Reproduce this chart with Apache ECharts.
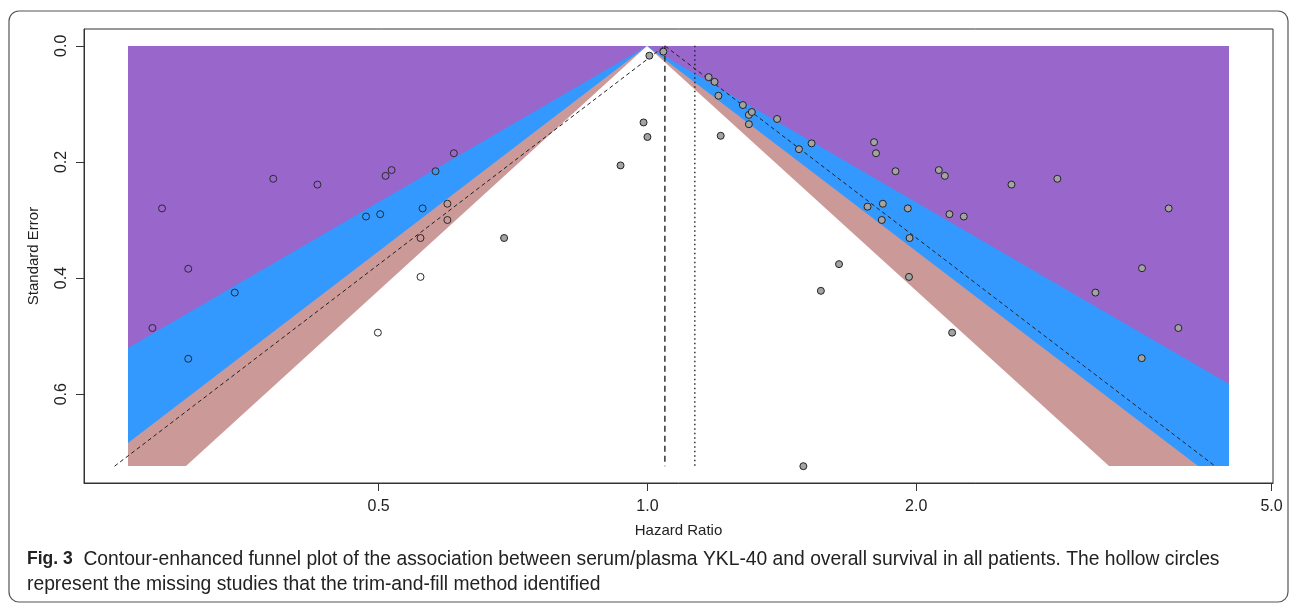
<!DOCTYPE html>
<html>
<head>
<meta charset="utf-8">
<title>Contour-enhanced funnel plot</title>
<script src="https://cdn.jsdelivr.net/npm/echarts@6/dist/echarts.min.js"></script>
<style>
  html, body { margin: 0; padding: 0; background: #fff; }
  #chart { width: 1295px; height: 607px; }
</style>
</head>
<body>
<div id="chart"></div>
<script>
// observed studies (grey filled points)
var observedHR = [1.005, 1.042, 0.990, 1.000, 0.933, 0.691, 1.208, 1.171, 1.189, 1.201,
  1.279, 1.299, 1.299, 1.309, 1.397, 1.478, 1.527, 1.794, 1.803, 1.896,
  2.120, 2.153, 1.764, 1.835, 1.957, 1.830, 1.966, 2.179, 2.261, 1.639,
  1.564, 1.963, 2.194, 2.557, 2.878, 3.835, 3.580, 3.175, 3.932, 3.577, 1.495];
var observedSE = [0.017, 0.010, 0.132, 0.157, 0.206, 0.331, 0.155, 0.054, 0.062, 0.086,
  0.102, 0.119, 0.135, 0.114, 0.126, 0.178, 0.168, 0.166, 0.185, 0.216,
  0.214, 0.224, 0.277, 0.272, 0.280, 0.300, 0.331, 0.290, 0.294, 0.376,
  0.422, 0.398, 0.494, 0.239, 0.229, 0.280, 0.383, 0.425, 0.486, 0.538, 0.724];

// studies added by trim-and-fill (hollow points)
var imputedHR = [0.279, 0.286, 0.306, 0.306, 0.345, 0.381, 0.427, 0.484, 0.502, 0.509,
  0.517, 0.579, 0.607, 0.560, 0.597, 0.597, 0.557, 0.557, 0.499];
var imputedSE = [0.486, 0.280, 0.384, 0.539, 0.425, 0.229, 0.239, 0.294, 0.290, 0.224,
  0.214, 0.216, 0.185, 0.280, 0.272, 0.300, 0.331, 0.398, 0.494];

var xTicks = [0.5, 1.0, 2.0, 5.0];
var yTicks = [0.0, 0.2, 0.4, 0.6];

// contour levels: whole area (p < 0.01 outside), 99%, 95%, 90%
var contourZ = [Infinity, 2.576, 1.96, 1.645];
var estHR = 1.046;   // trim-and-fill pooled estimate
var origHR = 1.130;  // dotted reference line
var hrRange = [0.262, 4.48];
var seMax = 0.724;

var regionColors = ['#9966cc', '#3399ff', '#cc9999', '#ffffff'];

var lnMin = Math.log(hrRange[0]);
var lnMax = Math.log(hrRange[1]);
var padX = (lnMax - lnMin) * 0.04;
var padY = seMax * 0.04;
var est = Math.log(estHR);

function regionPolygon(z) {
  var pts = [[0, 0]];
  if (-lnMin / z < seMax) {
    pts.push([lnMin, -lnMin / z]);
    pts.push([lnMin, seMax]);
  } else {
    pts.push([-z * seMax, seMax]);
  }
  if (lnMax / z < seMax) {
    pts.push([lnMax, seMax]);
    pts.push([lnMax, lnMax / z]);
  } else {
    pts.push([z * seMax, seMax]);
  }
  return pts;
}

var observedData = observedHR.map(function (hr, i) { return [Math.log(hr), observedSE[i]]; });
var imputedData = imputedHR.map(function (hr, i) { return [Math.log(hr), imputedSE[i]]; });

var chart = echarts.init(document.getElementById('chart'));

var axisFont = 'Liberation Sans, Arial, sans-serif';

var option = {
  backgroundColor: '#fff',
  animation: false,
  grid: {
    left: 84, right: 22, top: 29, bottom: 124,
    show: true,
    borderColor: '#333',
    borderWidth: 1
  },
  xAxis: {
    type: 'value',
    min: lnMin - padX,
    max: lnMax + padX,
    name: 'Hazard Ratio',
    nameLocation: 'middle',
    nameGap: 40,
    nameTextStyle: { color: '#222', fontSize: 15, fontFamily: axisFont },
    axisLine: { show: true, onZero: false, lineStyle: { color: '#333' } },
    splitLine: { show: false },
    axisTick: {
      show: true, length: 8,
      customValues: xTicks.map(function (v) { return Math.log(v); }),
      lineStyle: { color: '#333' }
    },
    axisLabel: {
      color: '#222', fontSize: 16, fontFamily: axisFont, margin: 16,
      customValues: xTicks.map(function (v) { return Math.log(v); }),
      formatter: function (v) { return Math.exp(v).toFixed(1); }
    }
  },
  yAxis: {
    type: 'value',
    inverse: true,
    min: -padY,
    max: seMax + padY,
    name: 'Standard Error',
    nameLocation: 'middle',
    nameGap: 43,
    nameTextStyle: { color: '#222', fontSize: 15, fontFamily: axisFont },
    axisLine: { show: true, onZero: false, lineStyle: { color: '#333' } },
    splitLine: { show: false },
    axisTick: {
      show: true, length: 8,
      customValues: yTicks,
      lineStyle: { color: '#333' }
    },
    axisLabel: {
      color: '#222', fontSize: 16, fontFamily: axisFont, margin: 14, rotate: 90,
      customValues: yTicks,
      formatter: function (v) { return v.toFixed(1); }
    }
  },
  series: [
    {
      type: 'custom',
      silent: true,
      z: 1,
      data: contourZ.map(function (z, i) { return i; }),
      renderItem: function (params, api) {
        var i = params.dataIndex;
        var pts = regionPolygon(contourZ[i]).map(function (p) {
          var c = api.coord(p);
          return [Math.round(c[0]), Math.round(c[1])];
        });
        return {
          type: 'polygon',
          shape: { points: pts },
          style: { fill: regionColors[i], stroke: null }
        };
      }
    },
    {
      // pseudo confidence funnel around the estimate
      type: 'line',
      silent: true,
      z: 3,
      symbol: 'none',
      lineStyle: { color: '#222', width: 1, type: [4, 3] },
      data: [[est - 1.96 * seMax, seMax], [est, 0], [est + 1.96 * seMax, seMax]]
    },
    {
      type: 'line',
      silent: true,
      z: 3,
      symbol: 'none',
      lineStyle: { color: '#333', width: 1.5, type: [6, 4] },
      data: [[est, 0], [est, seMax]]
    },
    {
      type: 'line',
      silent: true,
      z: 3,
      symbol: 'none',
      lineStyle: { color: '#222', width: 1.4, type: [1.5, 3] },
      data: [[Math.log(origHR), 0], [Math.log(origHR), seMax]]
    },
    {
      name: 'observed',
      type: 'scatter',
      z: 5,
      symbol: 'circle',
      symbolSize: 7,
      itemStyle: { color: '#a3a3a3', borderColor: '#222', borderWidth: 1, opacity: 1 },
      data: observedData
    },
    {
      name: 'imputed',
      type: 'scatter',
      z: 5,
      symbol: 'circle',
      symbolSize: 7,
      itemStyle: { color: 'rgba(0,0,0,0)', borderColor: '#2a2a2a', borderWidth: 1, opacity: 1 },
      data: imputedData
    }
  ],
  graphic: [
    {
      type: 'rect',
      silent: true,
      shape: { x: 9, y: 11, width: 1279, height: 591, r: 10 },
      style: { fill: null, stroke: '#555', lineWidth: 1.2 }
    },
    {
      type: 'text',
      silent: true,
      left: 27,
      top: 550,
      style: {
        text: '{b|Fig. 3}  Contour-enhanced funnel plot of the association between serum/plasma YKL-40 and overall survival in all patients. The hollow circles',
        fontSize: 19.3,
        fontFamily: axisFont,
        fill: '#222',
        rich: { b: { fontWeight: 'bold', fontSize: 17.5, fontFamily: axisFont, fill: '#222' } }
      }
    },
    {
      type: 'text',
      silent: true,
      left: 27,
      top: 575,
      style: {
        text: 'represent the missing studies that the trim-and-fill method identified',
        fontSize: 19.3,
        fontFamily: axisFont,
        fill: '#222'
      }
    }
  ]
};

chart.setOption(option);
</script>
</body>
</html>
